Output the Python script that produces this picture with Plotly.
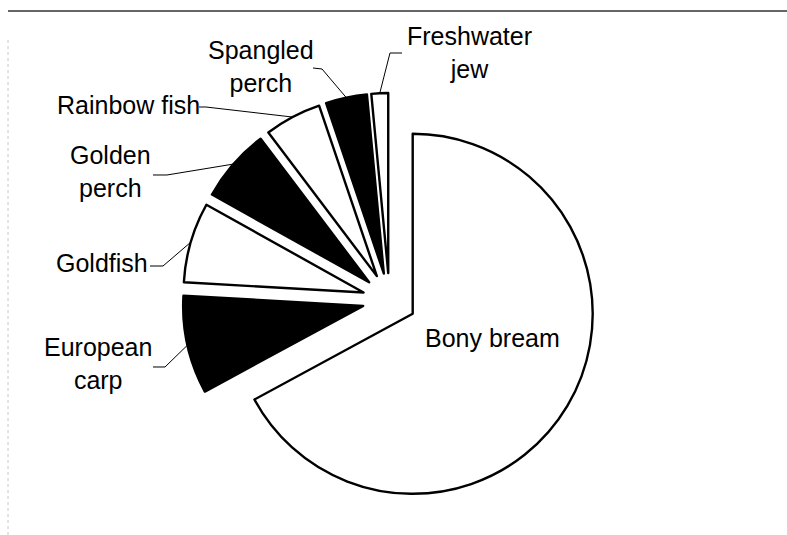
import numpy as np
import plotly.graph_objects as go

# ---- data ----
species = ["Bony bream", "European carp", "Goldfish", "Golden perch",
           "Rainbow fish", "Spangled perch", "Freshwater jew"]
percent = [67.1, 8.8, 7.2, 6.6, 5.1, 3.7, 1.5]
label_text = ["Bony bream", "European<br>carp", "Goldfish", "Golden<br>perch",
              "Rainbow fish", "Spangled<br>perch", "Freshwater<br>jew"]

# ---- layout / style ----
W, H = 787, 535
fills = ["white", "black", "white", "black", "white", "black", "white"]
PULL = 0.15
dom_x = [182.5 / W, 596.5 / W]
dom_y = [1 - 507 / H, 1 - 93 / H]
FONT = dict(family="Liberation Sans, Arial, sans-serif", size=25, color="black")

# label text centre (px) and leader start/bend (px); None = no leader
label_pos = [(493, 338), (98, 363), (102, 263), (110, 171),
             (128, 105), (261, 66), (470, 53)]
leader_start = [None, (153, 367), (150, 266), (153, 175),
                (199, 107), (313, 68), (402, 53)]
leader_bend = [None, (165, 367), (163, 266), (167, 175),
               (206, 107), (322, 69), (390, 53)]

fig = go.Figure(go.Pie(
    labels=species, values=percent, sort=False, direction="clockwise",
    rotation=0, pull=[PULL] * len(percent), textinfo="none",
    marker=dict(colors=fills, line=dict(color="black", width=2.4)),
    domain=dict(x=dom_x, y=dom_y), showlegend=False,
))

# geometry of the pie as plotly computes it
box_w = W * (dom_x[1] - dom_x[0])
box_h = H * (dom_y[1] - dom_y[0])
r = min(box_w, box_h) / 2 / (1 + PULL)
cx = W * (dom_x[0] + dom_x[1]) / 2
cy = H * (1 - (dom_y[0] + dom_y[1]) / 2)

vals = np.array(percent, dtype=float)
cum = np.concatenate([[0], np.cumsum(vals)[:-1]])
mid = np.radians(360 * (cum + vals / 2) / vals.sum())

def px2paper(x, y):
    return x / W, 1 - y / H

annotations = []
shapes = []
for i, txt in enumerate(label_text):
    lx, ly = px2paper(*label_pos[i])
    annotations.append(dict(x=lx, y=ly, xref="paper", yref="paper", text=txt,
                            showarrow=False, font=FONT, align="center",
                            xanchor="center", yanchor="middle"))
    if leader_start[i] is not None:
        tx = cx + (1 + PULL) * r * np.sin(mid[i])
        ty = cy - (1 + PULL) * r * np.cos(mid[i])
        pts = [leader_start[i], leader_bend[i], (tx, ty)]
        coords = ["{:.5f},{:.5f}".format(*px2paper(x, y)) for x, y in pts]
        shapes.append(dict(type="path", xref="paper", yref="paper",
                           path="M" + "L".join(coords),
                           line=dict(color="black", width=1)))

# scan border artefacts
shapes.append(dict(type="line", xref="paper", yref="paper",
                   x0=8 / W, x1=1, y0=1 - 11 / H, y1=1 - 11 / H,
                   line=dict(color="#333333", width=1.5)))
shapes.append(dict(type="line", xref="paper", yref="paper",
                   x0=8 / W, x1=8 / W, y0=0, y1=1 - 40 / H,
                   line=dict(color="#c8c8c8", width=1, dash="dot")))

fig.update_layout(width=W, height=H, margin=dict(l=0, r=0, t=0, b=0),
                  paper_bgcolor="white", plot_bgcolor="white",
                  annotations=annotations, shapes=shapes)

fig.write_html("out.html")
